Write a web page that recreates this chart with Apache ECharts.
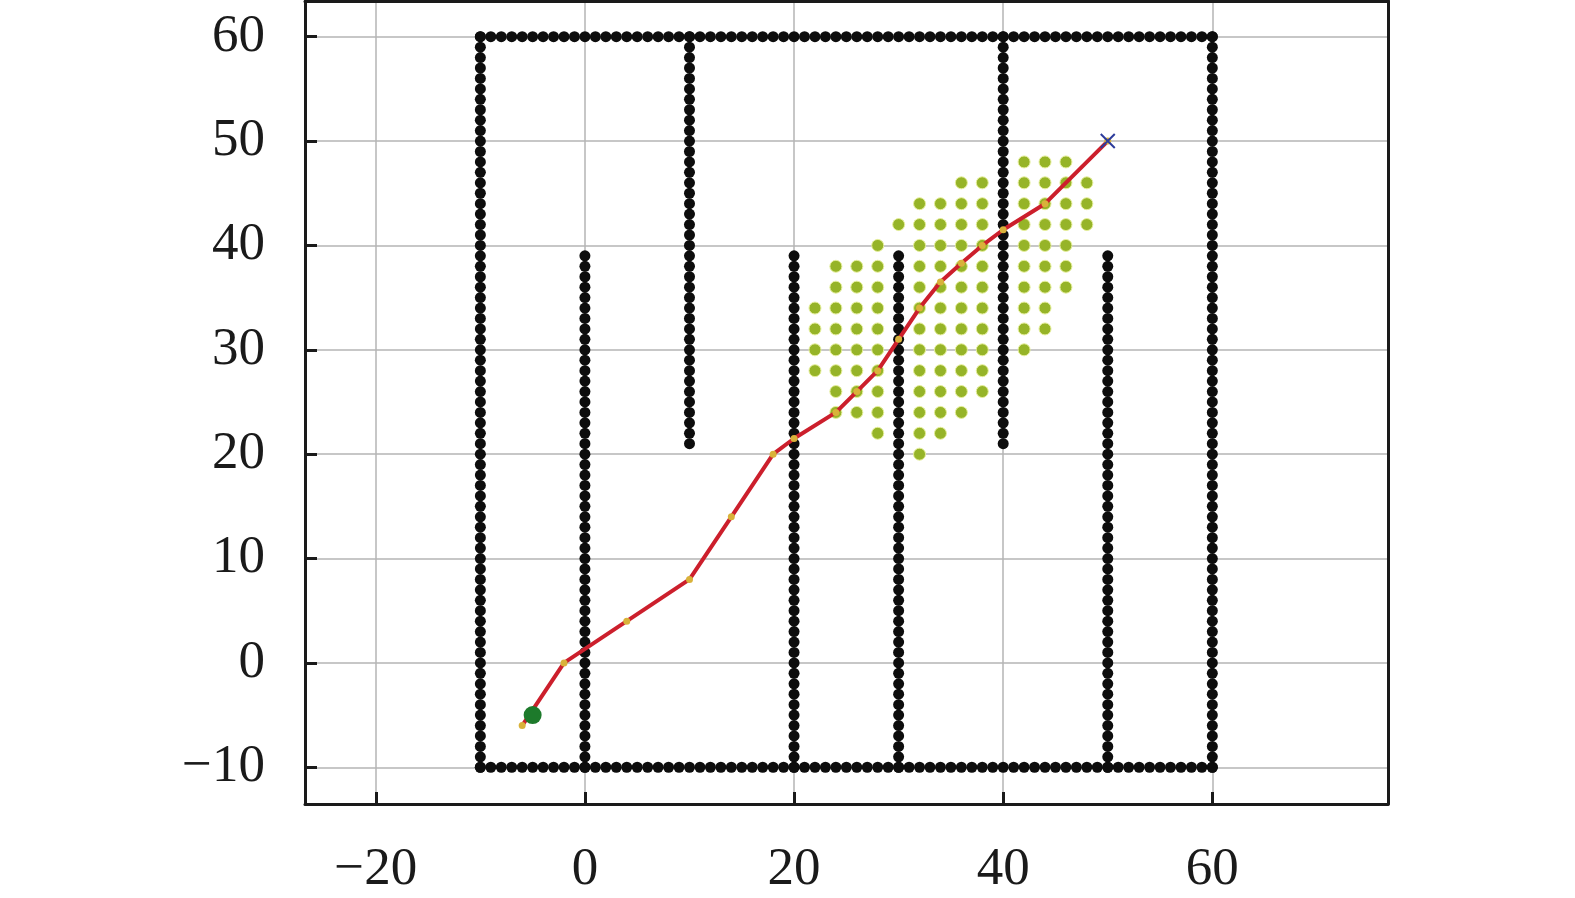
<!DOCTYPE html>
<html><head><meta charset="utf-8">
<script src="https://cdn.jsdelivr.net/npm/echarts@6/dist/echarts.min.js"></script>
<style>html,body{margin:0;padding:0;background:#fff}#c{width:1575px;height:898px}</style>
</head><body><div id="c"></div>
<script>
// ---- data ----
const boundaryXs = [-10,-9,-8,-7,-6,-5,-4,-3,-2,-1,0,1,2,3,4,5,6,7,8,9,10,11,12,13,14,15,16,17,18,19,20,21,22,23,24,25,26,27,28,29,30,31,32,33,34,35,36,37,38,39,40,41,42,43,44,45,46,47,48,49,50,51,52,53,54,55,56,57,58,59,60];
const boundaryYs = [-10,-9,-8,-7,-6,-5,-4,-3,-2,-1,0,1,2,3,4,5,6,7,8,9,10,11,12,13,14,15,16,17,18,19,20,21,22,23,24,25,26,27,28,29,30,31,32,33,34,35,36,37,38,39,40,41,42,43,44,45,46,47,48,49,50,51,52,53,54,55,56,57,58,59,60];
const boundaryXEdges = [-10, 60];
const boundaryYEdges = [-10, 60];
const lowWallXs = [0, 20, 30, 50];
const lowWallYs = [-10,-9,-8,-7,-6,-5,-4,-3,-2,-1,0,1,2,3,4,5,6,7,8,9,10,11,12,13,14,15,16,17,18,19,20,21,22,23,24,25,26,27,28,29,30,31,32,33,34,35,36,37,38,39];
const highWallXs = [10, 40];
const highWallYs = [21,22,23,24,25,26,27,28,29,30,31,32,33,34,35,36,37,38,39,40,41,42,43,44,45,46,47,48,49,50,51,52,53,54,55,56,57,58,59,60];

const openCols = [22,24,26,28,30,32,34,36,38,42,44,46,48];
const openRows = [
  [28,30,32,34],
  [24,26,28,30,32,34,36,38],
  [24,26,28,30,32,34,36,38],
  [22,24,26,28,30,32,34,36,38,40],
  [42],
  [20,22,24,26,28,30,32,34,36,38,40,42,44],
  [22,24,26,28,30,32,34,36,38,40,42,44],
  [24,26,28,30,32,34,36,38,40,42,44,46],
  [26,28,30,32,34,36,38,40,42,44,46],
  [30,32,34,36,38,40,42,44,46,48],
  [32,34,36,38,40,42,44,46,48],
  [36,38,40,42,44,46,48],
  [42,44,46]
];

const pathX = [-6,-2,4,10,14,18,20,24,26,28,30,32,34,36,38,40,44,50];
const pathY = [-6,0,4,8,14,20,21.5,24,26,28,31,34,36.5,38.3,40,41.5,44,50];

const startPt = [-5, -5];
const goalPt = [50, 50];

const xTicks = [-20, 0, 20, 40, 60];
const yTicks = [-10, 0, 10, 20, 30, 40, 50, 60];

// ---- build ----
const wallData = [];
boundaryYEdges.forEach(y => boundaryXs.forEach(x => wallData.push([x, y])));
boundaryXEdges.forEach(x => boundaryYs.forEach(y => wallData.push([x, y])));
lowWallXs.forEach(x => lowWallYs.forEach(y => wallData.push([x, y])));
highWallXs.forEach(x => highWallYs.forEach(y => wallData.push([x, y])));

const openData = [];
openCols.forEach((x, i) => openRows[i].forEach(y => openData.push([x, y])));

const pathData = pathX.map((x, i) => [x, pathY[i]]);

const fmt = v => String(v).replace('-', '\u2212');
const labelFont = {fontFamily: '"Liberation Serif", "Times New Roman", serif', fontSize: 53, color: '#1a1a1a'};
const XMIN = -26.77, XMAX = 76.8, YMIN = -13.52, YMAX = 63.42;
const frameLine = {show: true, onZero: false, lineStyle: {color: '#1a1a1a', width: 3}};

const chart = echarts.init(document.getElementById('c'));
chart.setOption({
  animation: false,
  backgroundColor: '#fff',
  grid: {left: 305, right: 187, top: 1, bottom: 94, show: false},
  xAxis: [{
    type: 'value', min: XMIN, max: XMAX, splitNumber: 5, minInterval: 20, maxInterval: 20,
    axisLine: frameLine,
    axisTick: {show: true, inside: true, length: 12, lineStyle: {color: '#1a1a1a', width: 3}},
    axisLabel: Object.assign({margin: 40, showMinLabel: false, showMaxLabel: false,
      formatter: v => xTicks.includes(v) ? fmt(v) : ''}, labelFont),
    splitLine: {show: true, lineStyle: {color: '#b4b4b4', width: 1.5}}
  }, {
    type: 'value', position: 'top', min: XMIN, max: XMAX, splitNumber: 5, minInterval: 20, maxInterval: 20,
    axisLine: frameLine, axisTick: {show: false}, axisLabel: {show: false}, splitLine: {show: false}
  }],
  yAxis: [{
    type: 'value', min: YMIN, max: YMAX, splitNumber: 7, minInterval: 10, maxInterval: 10,
    axisLine: frameLine,
    axisTick: {show: true, inside: true, length: 12, lineStyle: {color: '#1a1a1a', width: 3}},
    axisLabel: Object.assign({margin: 40, showMinLabel: false, showMaxLabel: false,
      formatter: v => yTicks.includes(v) ? fmt(v) : ''}, labelFont),
    splitLine: {show: true, lineStyle: {color: '#b4b4b4', width: 1.5}}
  }, {
    type: 'value', position: 'right', min: YMIN, max: YMAX, splitNumber: 7, minInterval: 10, maxInterval: 10,
    axisLine: frameLine, axisTick: {show: false}, axisLabel: {show: false}, splitLine: {show: false}
  }],
  series: [
    {type: 'scatter', name: 'open', data: openData, symbolSize: 12, z: 2,
     itemStyle: {color: '#96b428', opacity: 1, borderColor: '#e6ef9c', borderWidth: 1}},
    {type: 'scatter', name: 'walls', data: wallData, symbolSize: 11, z: 3,
     itemStyle: {color: '#0d0d0d', opacity: 1}},
    {type: 'line', name: 'path', data: pathData, z: 4, symbol: 'circle', symbolSize: 7,
     showSymbol: true,
     lineStyle: {color: '#cc1f2c', width: 4},
     itemStyle: {color: '#d9b23a', borderWidth: 0}},
    {type: 'scatter', name: 'start', data: [startPt], symbolSize: 18, z: 5,
     itemStyle: {color: '#1d7a2b', opacity: 1}},
    {type: 'scatter', name: 'goal', data: [goalPt], z: 6, symbol: 'path://M0,0L10,10M10,0L0,10', symbolSize: 14,
     itemStyle: {color: 'rgba(0,0,0,0)', borderColor: '#2d3c9c', borderWidth: 2, opacity: 1}}
  ]
});
</script></body></html>
